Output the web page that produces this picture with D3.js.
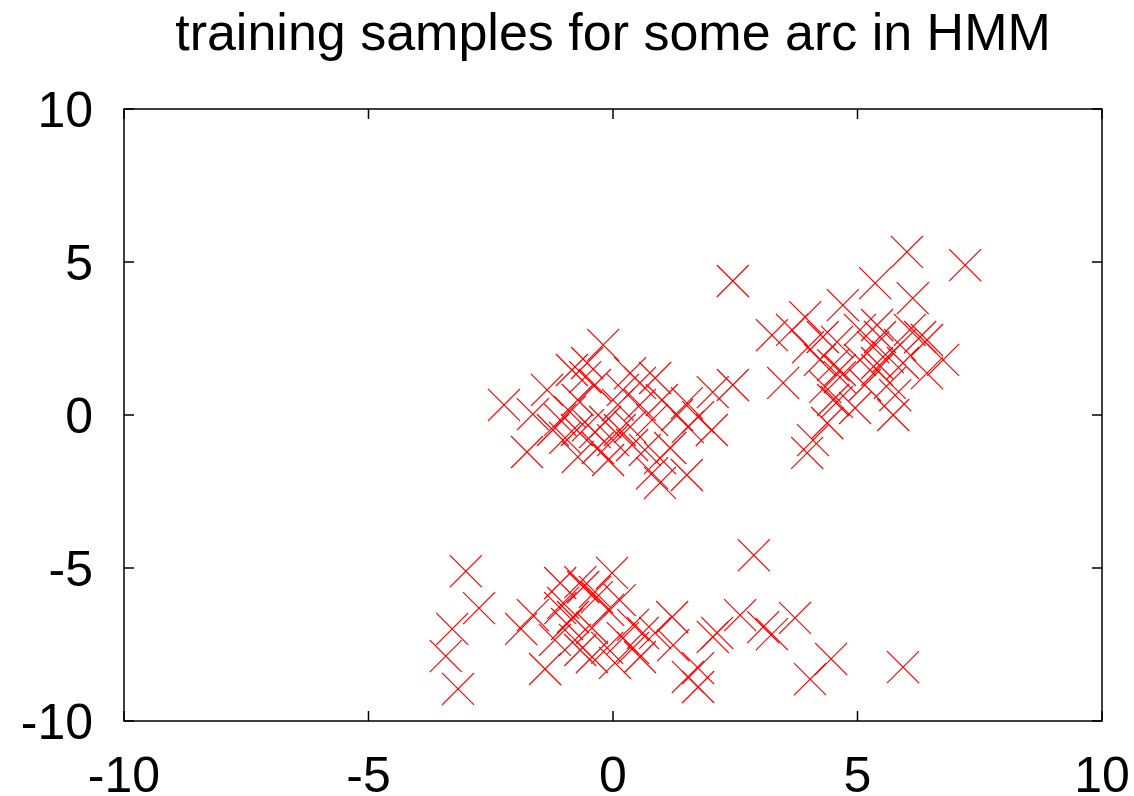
<!DOCTYPE html>
<meta charset="utf-8">
<style>
body { margin: 0; background: #fff; }
text { font-family: "Liberation Sans", Arial, sans-serif; fill: #000; }
.frame { fill: none; stroke: #000; stroke-width: 1.5; }
.tick { stroke: #000; stroke-width: 1.5; }
.pt { stroke: #ff0000; stroke-width: 1.2; fill: none; }
</style>
<svg width="1134" height="796"></svg>
<script src="https://cdn.jsdelivr.net/npm/d3@7"></script>
<script>

var title = "training samples for some arc in HMM";
var xTicks = [-10, -5, 0, 5, 10],
    yTicks = [-10, -5, 0, 5, 10];

// samples
var xs = [
  // upper middle group
  -2.23, -1.64, -1.35, -1.76, -0.20, -0.53, -0.57, -0.84, -0.72, -0.37,
  0.20, 0.55, 0.35, 0.86, 1.00, 1.31, 1.51, 1.74, 1.53, 2.02,
  2.04, 2.45, 0.80, 0.35, 0.14, 0.00, -0.51, -0.74, -0.98, -0.72,
  -0.31, -0.10, -0.37, -0.16, -1.08, -0.88, 0.39, 0.65, 1.17, 0.96,
  1.51, 0.96, 0.80, 0.55, 0.10, -1.23,
  // right group
  2.45, 7.20, 6.01, 5.36, 6.13, 4.70, 3.93, 3.25, 3.66, 3.99,
  4.23, 4.50, 4.64, 4.58, 5.05, 5.32, 5.40, 5.46, 5.62, 5.40,
  5.93, 5.66, 6.42, 6.28, 6.75, 6.42, 5.40, 4.64, 4.34, 3.48,
  4.58, 4.95, 4.50, 4.38, 4.09, 3.97, 5.73, 5.87, 6.07, 5.05,
  5.77, 5.15, 4.29,
  // lower group
  2.88, -3.01, -2.74, -3.29, -3.42, -3.17, -1.88, -1.64, -1.39, -1.08,
  -0.94, -0.82, -0.37, -0.02, -0.10, -0.61, -1.08, -0.67, -0.33, -1.02,
  -0.43, 0.20, 0.41, 0.61, -0.12, 0.41, 0.55, 0.04, -0.78, -0.67,
  -0.43, 0.86, 1.21, 1.23, 1.53, 1.74, 1.74, 2.13, 2.04, 2.60,
  3.07, 3.25, 3.72, 4.46, 4.03, 5.93, -1.19, 0.14
];
var ys = [
  0.33, 0.03, 0.82, -1.21, 2.29, 1.70, 1.24, 1.47, 0.49, 0.98,
  0.82, 1.05, 1.37, 1.21, 0.49, 0.00, 0.39, -0.07, -0.39, -0.49,
  0.75, 0.98, -0.16, -0.39, -0.49, -0.82, -0.33, -0.49, -0.75, -1.37,
  -1.08, -1.47, -0.56, -0.23, -0.16, 0.10, -0.98, -1.14, -1.08, -1.41,
  -1.96, -2.22, -1.90, 0.33, 0.33, -0.49,
  4.38, 4.90, 5.33, 4.31, 3.82, 3.59, 3.20, 2.61, 2.78, 2.22,
  1.80, 1.63, 1.24, 2.39, 1.80, 2.22, 2.94, 2.55, 1.90, 1.70,
  1.70, 1.05, 2.45, 2.55, 1.80, 1.37, 1.47, 1.47, 0.92, 1.05,
  0.43, 0.23, 0.49, -0.26, -0.82, -1.24, 0.00, 2.29, 2.78, 2.78,
  0.65, 0.98, 2.55,
  -4.58, -5.10, -6.31, -6.99, -7.88, -8.95, -6.99, -6.54, -8.30, -6.31,
  -6.83, -6.60, -5.78, -5.16, -6.37, -5.62, -5.49, -5.46, -5.95, -6.14,
  -6.96, -7.29, -6.86, -7.12, -7.61, -7.61, -7.91, -8.10, -7.35, -7.68,
  -7.91, -7.12, -6.60, -7.52, -8.56, -8.89, -8.27, -7.12, -7.25, -6.54,
  -6.93, -7.16, -6.63, -7.97, -8.63, -8.24, -7.35, -6.05
];

var svg = d3.select("svg");
var pl = 124, pr = 1102, pt = 109, pb = 721;

var x = d3.scaleLinear().domain([-10, 10]).range([pl, pr]);
var y = d3.scaleLinear().domain([-10, 10]).range([pb, pt]);

svg.append("text")
    .attr("x", 613)
    .attr("y", 50)
    .attr("text-anchor", "middle")
    .attr("font-size", 52)
    .text(title);

svg.append("rect")
    .attr("class", "frame")
    .attr("x", pl)
    .attr("y", pt)
    .attr("width", pr - pl)
    .attr("height", pb - pt);

var tl = 10;

// x ticks, bottom and mirrored on top
xTicks.forEach(function(t) {
  svg.append("line").attr("class", "tick")
      .attr("x1", x(t)).attr("x2", x(t)).attr("y1", pb).attr("y2", pb - tl);
  svg.append("line").attr("class", "tick")
      .attr("x1", x(t)).attr("x2", x(t)).attr("y1", pt).attr("y2", pt + tl);
  svg.append("text")
      .attr("x", x(t))
      .attr("y", 792)
      .attr("text-anchor", "middle")
      .attr("font-size", 50)
      .text(t);
});

yTicks.forEach(function(t) {
  svg.append("line").attr("class", "tick")
      .attr("x1", pl).attr("x2", pl + tl).attr("y1", y(t)).attr("y2", y(t));
  svg.append("line").attr("class", "tick")
      .attr("x1", pr).attr("x2", pr - tl).attr("y1", y(t)).attr("y2", y(t));
  svg.append("text")
      .attr("x", 93)
      .attr("y", y(t))
      .attr("dy", "0.36em")
      .attr("text-anchor", "end")
      .attr("font-size", 50)
      .text(t);
});

var s = 16;
var pts = xs.map(function(d, i) { return [d, ys[i]]; });

svg.append("g")
  .selectAll("path")
  .data(pts)
  .enter().append("path")
    .attr("class", "pt")
    .attr("d", function(d) {
      var cx = x(d[0]), cy = y(d[1]);
      return "M" + (cx - s) + "," + (cy - s) + "L" + (cx + s) + "," + (cy + s) +
             "M" + (cx - s) + "," + (cy + s) + "L" + (cx + s) + "," + (cy - s);
    });

</script>
